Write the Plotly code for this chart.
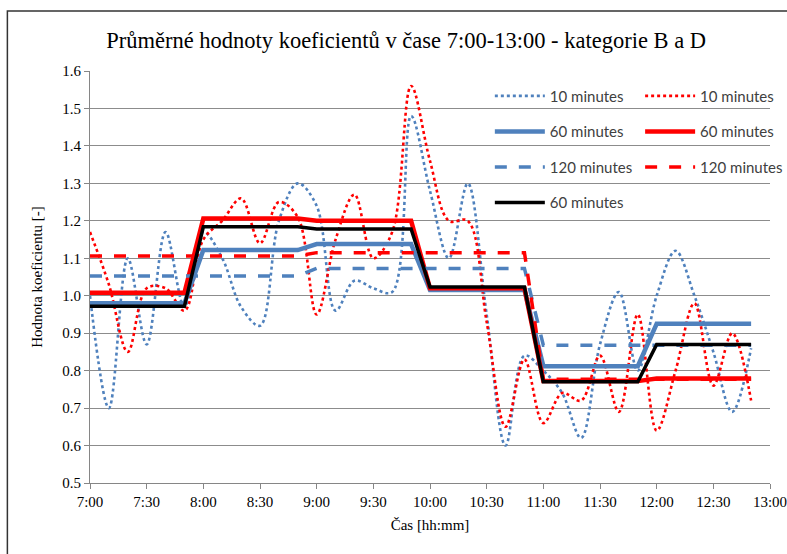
import plotly.graph_objects as go

# time of each point in minutes after 7:00 (10-minute steps, 7:00 .. 12:50)
minutes = [0, 10, 20, 30, 40, 50, 60, 70, 80, 90, 100, 110,
           120, 130, 140, 150, 160, 170, 180, 190, 200, 210, 220, 230,
           240, 250, 260, 270, 280, 290, 300, 310, 320, 330, 340, 350]

tick_minutes = [0, 30, 60, 90, 120, 150, 180, 210, 240, 270, 300, 330, 360]
tick_labels = ["7:00", "7:30", "8:00", "8:30", "9:00", "9:30", "10:00",
               "10:30", "11:00", "11:30", "12:00", "12:30", "13:00"]

blue_10 = [1.00, 0.70, 1.10, 0.87, 1.17, 0.97,
           1.17, 1.10, 0.97, 0.92, 1.20, 1.30,
           1.24, 0.96, 1.04, 1.02, 1.01, 1.48,
           1.28, 1.10, 1.30, 0.95, 0.60, 0.84,
           0.80, 0.74, 0.62, 0.87, 1.01, 0.80,
           1.00, 1.12, 1.00, 0.85, 0.69, 0.86]

red_10 = [1.17, 1.03, 0.85, 1.02, 1.02, 0.96,
          1.15, 1.20, 1.26, 1.14, 1.25, 1.21,
          0.95, 1.15, 1.27, 1.10, 1.17, 1.56,
          1.36, 1.20, 1.20, 0.93, 0.65, 0.83,
          0.66, 0.74, 0.72, 0.84, 0.69, 0.95,
          0.64, 0.80, 0.98, 0.76, 0.90, 0.72]

blue_60 = [0.980, 0.980, 0.980, 0.980, 0.980, 0.980,
           1.122, 1.122, 1.122, 1.122, 1.122, 1.122,
           1.138, 1.138, 1.138, 1.138, 1.138, 1.138,
           1.015, 1.015, 1.015, 1.015, 1.015, 1.015,
           0.812, 0.812, 0.812, 0.812, 0.812, 0.812,
           0.925, 0.925, 0.925, 0.925, 0.925, 0.925]

red_60 = [1.008, 1.008, 1.008, 1.008, 1.008, 1.008,
          1.206, 1.206, 1.206, 1.206, 1.206, 1.206,
          1.200, 1.200, 1.200, 1.200, 1.200, 1.200,
          1.020, 1.020, 1.020, 1.020, 1.020, 1.020,
          0.772, 0.772, 0.772, 0.772, 0.772, 0.772,
          0.779, 0.779, 0.779, 0.779, 0.779, 0.779]

blue_120 = [1.053, 1.053, 1.053, 1.053, 1.053, 1.053,
            1.053, 1.053, 1.053, 1.053, 1.053, 1.053,
            1.073, 1.073, 1.073, 1.073, 1.073, 1.073,
            1.073, 1.073, 1.073, 1.073, 1.073, 1.073,
            0.868, 0.868, 0.868, 0.868, 0.868, 0.868,
            0.868, 0.868, 0.868, 0.868, 0.868, 0.868]

red_120 = [1.106, 1.106, 1.106, 1.106, 1.106, 1.106,
           1.106, 1.106, 1.106, 1.106, 1.106, 1.106,
           1.115, 1.115, 1.115, 1.115, 1.115, 1.115,
           1.115, 1.115, 1.115, 1.115, 1.115, 1.115,
           0.777, 0.777, 0.777, 0.777, 0.777, 0.777,
           0.777, 0.777, 0.777, 0.777, 0.777, 0.777]

black_60 = [0.972, 0.972, 0.972, 0.972, 0.972, 0.972,
            1.184, 1.184, 1.184, 1.184, 1.184, 1.184,
            1.178, 1.178, 1.178, 1.178, 1.178, 1.178,
            1.023, 1.023, 1.023, 1.023, 1.023, 1.023,
            0.770, 0.770, 0.770, 0.770, 0.770, 0.770,
            0.870, 0.870, 0.870, 0.870, 0.870, 0.870]

BLUE = "#4F81BD"
RED = "#FF0000"
BLACK = "#000000"

fig = go.Figure()

series = [
    ("10 minutes", blue_10, BLUE, 2.6, "dot", "spline", "legend", "b10"),
    ("10 minutes", red_10, RED, 2.6, "dot", "spline", "legend2", "r10"),
    ("60 minutes", blue_60, BLUE, 4.5, "solid", "linear", "legend", "b60"),
    ("60 minutes", red_60, RED, 4.5, "solid", "linear", "legend2", "r60"),
    ("120 minutes", blue_120, BLUE, 3.5, "12px,12px", "linear", "legend", "b120"),
    ("120 minutes", red_120, RED, 3.5, "12px,12px", "linear", "legend2", "r120"),
    ("60 minutes", black_60, BLACK, 3.5, "solid", "linear", "legend", "k60"),
]
for name, vals, col, w, dash, shape, leg, grp in series:
    line = dict(color=col, width=w, dash=dash, shape=shape)
    if shape == "spline":
        line["smoothing"] = 1.0
    fig.add_trace(go.Scatter(x=minutes, y=vals, mode="lines", name=name,
                             line=line, legend=leg, legendgroup=grp,
                             hoverinfo="skip"))

serif = "Liberation Serif"
legend_font = dict(family="Lato", size=15, color="#404040")
common_legend = dict(bgcolor="rgba(0,0,0,0)", borderwidth=0, font=legend_font,
                     itemwidth=50, tracegroupgap=13, traceorder="grouped",
                     xanchor="left", yanchor="top", orientation="v")

fig.update_layout(
    width=787, height=554,
    margin=dict(l=90, r=17, t=71, b=71, autoexpand=False),
    paper_bgcolor="white", plot_bgcolor="white",
    title=dict(text="Průměrné hodnoty koeficientů v čase 7:00-13:00 - kategorie B a D",
               font=dict(family=serif, size=22.5, color="#000000"),
               x=0.516, xref="container", xanchor="center",
               y=1 - 40 / 554, yref="container", yanchor="middle"),
    legend=dict(x=0.588, y=0.979, **common_legend),
    legend2=dict(x=0.809, y=0.979, **common_legend),
    xaxis=dict(range=[0, 360], tickvals=tick_minutes, ticktext=tick_labels,
               showgrid=False, zeroline=False,
               showline=True, linecolor="#868686", linewidth=1,
               ticks="outside", ticklen=5, tickcolor="#868686",
               ticklabeloverflow="allow",
               tickfont=dict(family=serif, size=15, color="#000000"),
               title=dict(text="Čas [hh:mm]", standoff=10,
                          font=dict(family=serif, size=15, color="#000000"))),
    yaxis=dict(range=[0.5, 1.6], dtick=0.1, tick0=0.5, tickformat=".1f",
               showgrid=True, gridcolor="#8C8C8C", gridwidth=1, zeroline=False,
               showline=True, linecolor="#868686", linewidth=1,
               ticks="outside", ticklen=5, tickcolor="#868686",
               tickfont=dict(family=serif, size=15, color="#000000"),
               title=dict(text="Hodnota koeficientu [-]", standoff=16,
                          font=dict(family=serif, size=15, color="#000000"))),
    shapes=[
        # white panel behind the legend hiding the gridlines
        dict(type="rect", xref="paper", yref="paper", x0=0.5835, x1=1.0,
             y0=0.62, y1=0.985, fillcolor="white", line=dict(width=0),
             layer="between"),
        # outer chart border
        dict(type="rect", xref="paper", yref="paper", x0=-0.1215, x1=1.2,
             y0=-0.4, y1=1.1456, fillcolor="rgba(0,0,0,0)",
             line=dict(color="#333333", width=1.5), layer="above"),
    ],
)

fig.write_html("out.html",
               config={"displayModeBar": False},
               post_script="document.body.style.margin='0';"
                           "document.body.style.overflow='hidden';")
